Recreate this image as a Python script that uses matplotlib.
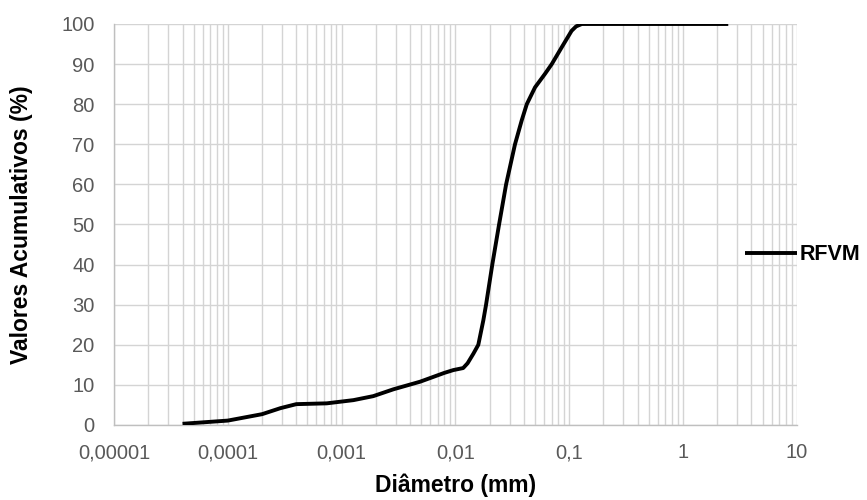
import numpy as np
import matplotlib
matplotlib.use('Agg')
import matplotlib.pyplot as plt

# Grain size distribution (cumulative %)
diametro = [4.0e-5, 1.0e-4, 2.0e-4, 2.9e-4, 4.0e-4, 7.4e-4, 1.27e-3, 1.9e-3,
            2.85e-3, 4.9e-3, 8.0e-3, 0.0096, 0.0117, 0.0128, 0.0144, 0.0159,
            0.0176, 0.0186, 0.0211, 0.0242, 0.0279, 0.0334, 0.0383, 0.0424,
            0.0501, 0.0614, 0.0703, 0.086, 0.105, 0.115, 0.129, 2.5]
acumulado = [0.3, 1.1, 2.7, 4.2, 5.2, 5.4, 6.2, 7.2,
             8.9, 10.8, 13.0, 13.7, 14.2, 15.4, 17.8, 20.0,
             26.1, 30.0, 40.0, 50.0, 60.0, 70.0, 76.0, 80.0,
             84.2, 87.6, 90.0, 94.2, 98.3, 99.4, 100.0, 100.0]
serie = "RFVM"

xticks = [1e-5, 1e-4, 1e-3, 1e-2, 1e-1, 1, 10]
xticklabels = ["0,00001", "0,0001", "0,001", "0,01", "0,1", "1", "10"]
yticks = list(range(0, 101, 10))

plt.rcParams['font.family'] = ['Liberation Sans', 'DejaVu Sans']

fig = plt.figure(figsize=(8.67, 5.0), dpi=100)
ax = fig.add_axes([0.1315, 0.15, 0.7875, 0.802])

ax.plot(diametro, acumulado, color='black', lw=2.8, solid_capstyle='butt',
        solid_joinstyle='round', label=serie, zorder=3)

ax.set_xscale('log')
ax.set_xlim(1e-5, 10)
ax.set_ylim(0, 100)
ax.set_xticks(xticks)
ax.set_xticklabels(xticklabels)
ax.set_yticks(yticks)
ax.xaxis.set_minor_locator(matplotlib.ticker.LogLocator(base=10, subs=np.arange(2, 10)))
ax.xaxis.set_minor_formatter(matplotlib.ticker.NullFormatter())

grid_col = '#d4d4d4'
ax.grid(True, which='major', color=grid_col, lw=1.0)
ax.grid(True, which='minor', axis='x', color=grid_col, lw=1.0)
ax.set_axisbelow(True)

for side in ['top', 'right']:
    ax.spines[side].set_visible(False)
for side in ['left', 'bottom']:
    ax.spines[side].set_color('#bfbfbf')
    ax.spines[side].set_linewidth(1.0)

ax.tick_params(which='both', length=0, colors='#595959', labelsize=14.5)
ax.tick_params(axis='x', pad=13)
ax.tick_params(axis='y', pad=14)

ax.set_xlabel("Diâmetro (mm)", fontsize=16.5, fontweight='bold', labelpad=8)
ax.set_ylabel("Valores Acumulativos (%)", fontsize=16.5, fontweight='bold', labelpad=20)

leg = ax.legend(loc='center left', bbox_to_anchor=(0.924, 0.424), frameon=False,
                handlelength=2.4, handletextpad=0.12, borderaxespad=0, borderpad=0,
                prop={'size': 15.5, 'weight': 'bold'})

plt.savefig("out.png", dpi=100)
